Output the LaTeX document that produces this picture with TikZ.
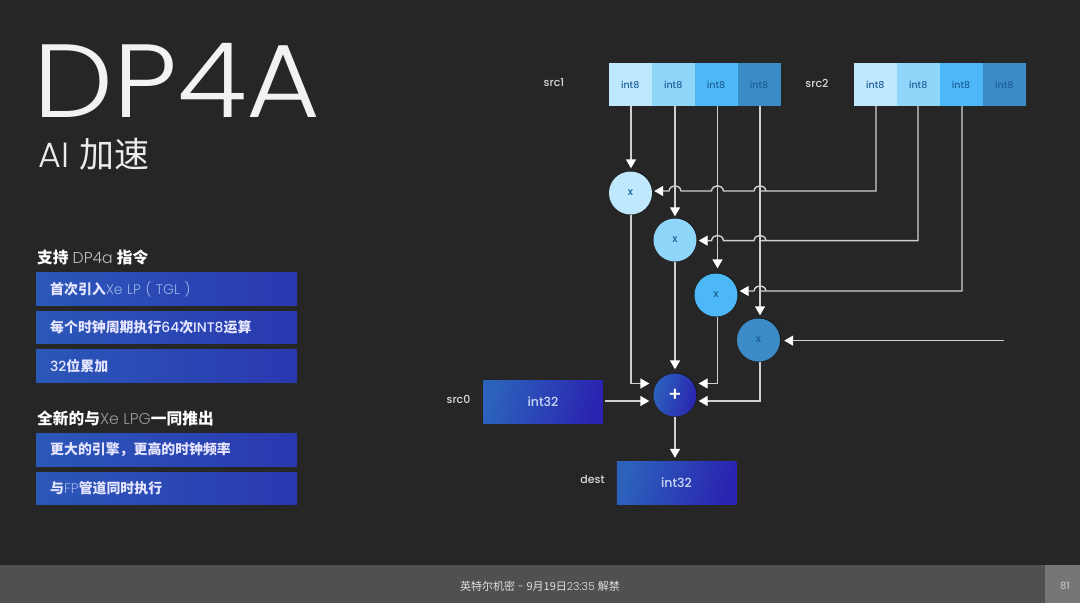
\documentclass[tikz,border=0pt]{standalone}
\usepackage{fontspec}
\usepackage{tikz}
\usetikzlibrary{arrows.meta, calc, shadows}
\setmainfont{Poppins}[UprightFont=* Medium]
\newfontfamily\cjk{Noto Sans CJK SC}
\newfontfamily\lightfont{Poppins}[UprightFont=* Light]
\newcommand{\cn}[1]{{\cjk\bfseries #1}}
\newcommand{\dimtext}[1]{{\lightfont\color{dimblue}#1}}
\newcommand{\hop}[1]{-- ($(#1)+(6,0)$) .. controls ($(#1)+(5,-7)$) and ($(#1)+(-5,-7)$) .. ($(#1)+(-6,0)$)}
\definecolor{bgdark}{HTML}{262626}
\definecolor{barcol}{HTML}{505050}
\definecolor{pagecol}{HTML}{767676}
\definecolor{wirecol}{HTML}{CFCFCF}
\definecolor{blueA}{HTML}{2C62BC}
\definecolor{blueB}{HTML}{2A24B0}
\definecolor{barA}{HTML}{2B58B8}
\definecolor{barB}{HTML}{2A38B0}
\definecolor{dimblue}{HTML}{9DB4E6}
\definecolor{inkblue}{HTML}{1B5F96}
\definecolor{cellA}{HTML}{BFE8FC}
\definecolor{cellB}{HTML}{8FD6FB}
\definecolor{cellC}{HTML}{4DB8F8}
\definecolor{cellD}{HTML}{3B8CC6}
\tikzset{
  cell/.style={minimum width=43, minimum height=43, inner sep=0, text=inkblue, font=\fontsize{9.5}{9.5}\selectfont},
  mulnode/.style={circle, minimum size=43, inner sep=0, text=inkblue, font=\fontsize{10.5}{10.5}\selectfont, drop shadow={shadow xshift=0.6pt, shadow yshift=0.6pt, fill=black, opacity=0.5}},
  bluefill/.style={left color=blueA, right color=blueB, shading angle=75},
  wordbox/.style={bluefill, minimum width=119.5, minimum height=43, inner sep=0, text=dimblue!50!white, font=\fontsize{12.5}{12.5}\selectfont},
  bar/.style={left color=barA, right color=barB, anchor=north west, minimum width=261, minimum height=32.5, inner xsep=14, inner ysep=0, text width=233, align=left, text=white!90!blue, font=\fontsize{13.9}{16}\selectfont},
  head/.style={anchor=west, inner sep=0, text=white, font=\fontsize{15.7}{18}\selectfont},
  tag/.style={inner sep=0, text=white!85!black, font=\fontsize{11}{11}\selectfont},
  wire/.style={draw=wirecol, line width=1.4},
  feed/.style={wire, -{Triangle[length=9, width=10, color=white]}, shorten >=2}
}
\begin{document}
\begin{tikzpicture}[x=1pt, y=-1pt]
  \useasboundingbox (0,0) rectangle (1080,603);
  \fill[bgdark] (0,0) rectangle (1080,603);
  \fill[barcol] (0,565) rectangle (1080,603);
  \fill[pagecol] (1045,565) rectangle (1080,603);

  % title
  \node[anchor=west, inner sep=0, xscale=1.09, text=white!95!black, font=\fontsize{104}{104}\lightfont] (title) at (33,80.5) {DP4A};
  \node[anchor=west, inner sep=0, text=white!92!black, font=\fontsize{35}{35}\selectfont] (subtitle) at (38,154.5) {{\lightfont AI}\hspace{10.5pt}{\cjk 加速}};

  % left lists
  \node[head] (headone) at (37,257) {\cn{支持} {\lightfont\color{white!75!black}DP4a} \cn{指令}};
  \node[bar] (barone) at (36,272.4) {\cn{首次引入}\dimtext{Xe LP ( TGL )}};
  \node[bar] (bartwo) at (36,310.8) {\cn{每个时钟周期执行}64\cn{次}INT8\cn{运算}};
  \node[bar] (barthree) at (36,349.6) {32\cn{位累加}};
  \node[head] (headtwo) at (37,418.5) {\cn{全新的与}{\lightfont\color{white!60!black}Xe LPG}\cn{一同推出}};
  \node[bar] (barfour) at (36,433.6) {\cn{更大的引擎，更高的时钟频率}};
  \node[bar] (barfive) at (36,472) {\cn{与}\dimtext{FP}\cn{管道同时执行}};

  % registers
  \foreach \n/\px/\col in {1/630.2/cellA, 2/673.2/cellB, 3/716/cellC, 4/759/cellD} {
    \node[cell, fill=\col] (a\n) at (\px,84.7) {int8};
  }
  \foreach \n/\px/\col in {1/875.3/cellA, 2/918.2/cellB, 3/961/cellC, 4/1004.3/cellD} {
    \node[cell, fill=\col] (b\n) at (\px,84.7) {int8};
  }
  \node[tag] (srcone) at (554,83) {src1};
  \node[tag] (srctwo) at (817,83) {src2};

  % multipliers
  \node[mulnode, fill=cellA] (mulone) at (630.5,193) {x};
  \node[mulnode, fill=cellB] (multwo) at (675,240) {x};
  \node[mulnode, fill=cellC] (multhree) at (716,295) {x};
  \node[mulnode, fill=cellD] (mulfour) at (758.5,340) {x};
  \node[mulnode, bluefill, text=white, font=\fontsize{20}{20}\selectfont] (sum) at (675,395) {+};

  \node[wordbox] (srczero) at (543,402) {int32};
  \node[wordbox] (destbox) at (676.5,482.5) {int32};
  \node[tag] (srczerotag) at (458.5,399) {src0};
  \node[tag] (desttag) at (592.5,479) {dest};

  \coordinate (wa) at (631,106);
  \coordinate (wb) at (675,106);
  \coordinate (wc) at (717.5,106);
  \coordinate (wd) at (760,106);
  \coordinate (rowone) at (0,191);
  \coordinate (rowtwo) at (0,240.6);
  \coordinate (rowthree) at (0,291);
  \coordinate (rowfour) at (0,340.6);
  \coordinate (rowsum) at (0,383.5);
  \coordinate (rowlow) at (0,401);
  \coordinate (fourin) at (1004,340.6);

  % into the multipliers
  \draw[feed, shorten >=3] (wa) -- (wa |- mulone.north);
  \draw[feed] (wb) -- (wb |- multwo.north);
  \draw[feed, shorten >=5] (wc) -- (wc |- multhree.north);
  \draw[feed, shorten >=3] (wd) -- (wd |- mulfour.north);
  \draw[feed] (876,106) |- (wd |- rowone) \hop{wd |- rowone} \hop{wc |- rowone} \hop{wb |- rowone} -- (mulone.east |- rowone);
  \draw[feed] (918,106) |- (wd |- rowtwo) \hop{wd |- rowtwo} \hop{wc |- rowtwo} -- (multwo.east |- rowtwo);
  \draw[feed] (962,106) |- (wd |- rowthree) \hop{wd |- rowthree} -- (multhree.east |- rowthree);
  \draw[feed, shorten >=4] (fourin) -- (mulfour.east |- fourin);

  % into the adder
  \draw[feed, shorten >=4] (wa |- mulone.south) |- (sum.west |- rowsum);
  \draw[feed, shorten >=4] (wb |- multwo.south) -- (sum.north);
  \draw[feed] (wc |- multhree.south) |- (sum.east |- rowsum);
  \draw[feed] (wd |- mulfour.south) |- (sum.east |- rowlow);
  \draw[feed, shorten >=4] ($(srczero.east |- rowlow)+(2,0)$) -- (sum.west |- rowlow);
  \draw[feed, shorten >=3] (sum.south) -- (destbox.north -| sum);

  % footer
  \node[inner sep=0, text=white!88!black, font=\fontsize{11}{11}\selectfont] (footer) at (540,586.5) {{\cjk 英特尔机密} {\lightfont -} {\cjk 9月19日}{\lightfont 23:35} {\cjk 解禁}};
  \node[inner sep=0, text=white!75!black, font=\fontsize{10}{10}\selectfont] (pagenum) at (1065,586) {81};
\end{tikzpicture}
\end{document}
